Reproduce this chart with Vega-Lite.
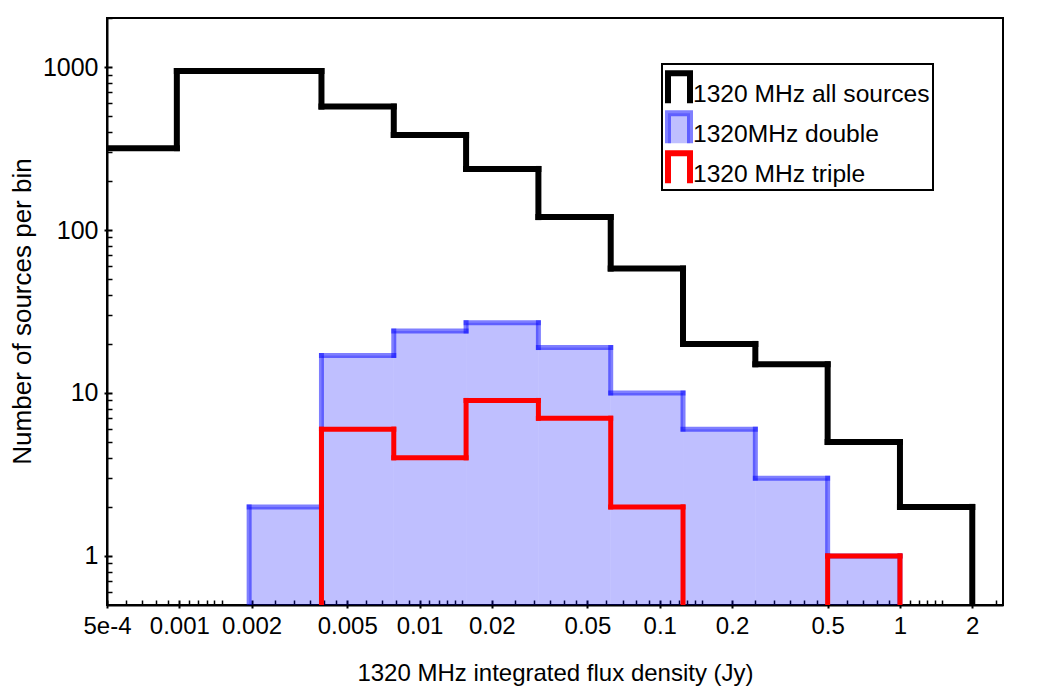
{
  "$schema": "https://vega.github.io/schema/vega-lite/v6.json",
  "width": 896,
  "height": 587,
  "autosize": {"type": "none"},
  "padding": {"left": 107, "top": 18, "right": 39, "bottom": 85},
  "background": "white",
  "config": {
    "font": "Liberation Sans",
    "view": {"stroke": "black", "strokeWidth": 2},
    "legend": {
      "orient": "none",
      "legendX": 555,
      "legendY": 46,
      "title": null,
      "symbolType": "M-1,1.5V-1.23H1V1.5",
      "symbolSize": 484,
      "symbolStrokeWidth": 6,
      "symbolFillColor": "transparent",
      "labelFontSize": 24.6,
      "labelColor": "black",
      "labelOffset": 0,
      "labelLimit": 400,
      "clipHeight": 39.5,
      "rowPadding": 0,
      "padding": 3,
      "strokeColor": "black",
      "fillColor": "white"
    }
  },
  "data": {
    "values": [
      {"series": "1320 MHz all sources", "lo": 0.00048828125, "hi": 0.0009765625, "n": 318},
      {"series": "1320 MHz all sources", "lo": 0.0009765625, "hi": 0.001953125, "n": 946},
      {"series": "1320 MHz all sources", "lo": 0.001953125, "hi": 0.00390625, "n": 946},
      {"series": "1320 MHz all sources", "lo": 0.00390625, "hi": 0.0078125, "n": 572},
      {"series": "1320 MHz all sources", "lo": 0.0078125, "hi": 0.015625, "n": 383},
      {"series": "1320 MHz all sources", "lo": 0.015625, "hi": 0.03125, "n": 237},
      {"series": "1320 MHz all sources", "lo": 0.03125, "hi": 0.0625, "n": 120},
      {"series": "1320 MHz all sources", "lo": 0.0625, "hi": 0.125, "n": 58},
      {"series": "1320 MHz all sources", "lo": 0.125, "hi": 0.25, "n": 20},
      {"series": "1320 MHz all sources", "lo": 0.25, "hi": 0.5, "n": 15},
      {"series": "1320 MHz all sources", "lo": 0.5, "hi": 1, "n": 5},
      {"series": "1320 MHz all sources", "lo": 1, "hi": 2, "n": 2},
      {"series": "1320 MHz all sources", "lo": 2, "hi": 4, "n": 0},
      {"series": "1320MHz double", "lo": 0.0009765625, "hi": 0.001953125, "n": 0},
      {"series": "1320MHz double", "lo": 0.001953125, "hi": 0.00390625, "n": 2},
      {"series": "1320MHz double", "lo": 0.00390625, "hi": 0.0078125, "n": 17},
      {"series": "1320MHz double", "lo": 0.0078125, "hi": 0.015625, "n": 24},
      {"series": "1320MHz double", "lo": 0.015625, "hi": 0.03125, "n": 27},
      {"series": "1320MHz double", "lo": 0.03125, "hi": 0.0625, "n": 19},
      {"series": "1320MHz double", "lo": 0.0625, "hi": 0.125, "n": 10},
      {"series": "1320MHz double", "lo": 0.125, "hi": 0.25, "n": 6},
      {"series": "1320MHz double", "lo": 0.25, "hi": 0.5, "n": 3},
      {"series": "1320MHz double", "lo": 0.5, "hi": 1, "n": 1},
      {"series": "1320MHz double", "lo": 1, "hi": 2, "n": 0},
      {"series": "1320 MHz triple", "lo": 0.001953125, "hi": 0.00390625, "n": 0},
      {"series": "1320 MHz triple", "lo": 0.00390625, "hi": 0.0078125, "n": 6},
      {"series": "1320 MHz triple", "lo": 0.0078125, "hi": 0.015625, "n": 4},
      {"series": "1320 MHz triple", "lo": 0.015625, "hi": 0.03125, "n": 9},
      {"series": "1320 MHz triple", "lo": 0.03125, "hi": 0.0625, "n": 7},
      {"series": "1320 MHz triple", "lo": 0.0625, "hi": 0.125, "n": 2},
      {"series": "1320 MHz triple", "lo": 0.125, "hi": 0.25, "n": 0},
      {"series": "1320 MHz triple", "lo": 0.25, "hi": 0.5, "n": 0},
      {"series": "1320 MHz triple", "lo": 0.5, "hi": 1, "n": 1},
      {"series": "1320 MHz triple", "lo": 1, "hi": 2, "n": 0}
    ]
  },
  "transform": [
    {"window": [{"op": "lag", "field": "n", "as": "prev"}], "groupby": ["series"], "sort": [{"field": "lo", "order": "ascending"}]}
  ],
  "layer": [
    {
      "transform": [{"filter": "datum.series === '1320MHz double' && datum.n > 0"}],
      "mark": {"type": "rect", "fill": "#0000ff", "fillOpacity": 0.25, "clip": true},
      "encoding": {
        "x": {
          "field": "lo", "type": "quantitative",
          "scale": {"type": "log", "domain": [0.0005, 2.685], "nice": false},
          "axis": {
            "orient": "bottom",
            "values": [0.0005, 0.001, 0.002, 0.005, 0.01, 0.02, 0.05, 0.1, 0.2, 0.5, 1, 2],
            "labelExpr": "datum.value < 0.0009 ? '5e-4' : toString(datum.value)",
            "grid": false, "domain": false, "offset": 3,
            "tickSize": -8, "tickWidth": 2, "tickColor": "black",
            "labelFontSize": 24, "labelColor": "black", "labelPadding": 14, "labelFlush": false, "labelOverlap": false,
            "title": "1320 MHz integrated flux density (Jy)",
            "titleFontSize": 24, "titleFontWeight": "normal", "titleColor": "black",
            "titleBaseline": "alphabetic", "titleY": 72
          }
        },
        "x2": {"field": "hi"},
        "y": {
          "field": "n", "type": "quantitative",
          "scale": {"type": "log", "domain": [0.5, 2000], "nice": false, "clamp": true},
          "axis": {
            "orient": "left",
            "values": [1, 10, 100, 1000],
            "format": "d",
            "grid": false, "domain": false, "offset": 3,
            "tickSize": -8, "tickWidth": 2, "tickColor": "black",
            "labelFontSize": 25, "labelColor": "black", "labelPadding": 14, "labelOverlap": false,
            "title": "Number of sources per bin",
            "titleFontSize": 26, "titleFontWeight": "normal", "titleColor": "black",
            "titleAngle": -90, "titleAlign": "center", "titleBaseline": "middle",
            "titleX": -82, "titleY": 293
          }
        },
        "y2": {"datum": 0.5}
      }
    },
    {
      "transform": [{"filter": "datum.series === '1320MHz double' && datum.prev != null && datum.prev != datum.n"}],
      "mark": {"type": "rule", "strokeWidth": 5, "strokeCap": "square", "opacity": 0.5, "clip": true},
      "encoding": {
        "x": {"field": "lo", "type": "quantitative", "scale": {"type": "log", "domain": [0.0005, 2.685], "nice": false}, "axis": null},
        "y": {"field": "prev", "type": "quantitative", "scale": {"type": "log", "domain": [0.5, 2000], "nice": false, "clamp": true}, "axis": null},
        "y2": {"field": "n"},
        "color": {"field": "series", "type": "nominal"}
      }
    },
    {
      "transform": [{"filter": "datum.series === '1320MHz double' && datum.n > 0"}],
      "mark": {"type": "rule", "strokeWidth": 5, "strokeCap": "square", "opacity": 0.5, "clip": true},
      "encoding": {
        "x": {
          "field": "lo", "type": "quantitative",
          "scale": {"type": "log", "domain": [0.0005, 2.685], "nice": false},
          "axis": {
            "orient": "bottom",
            "values": [0.0006, 0.0007, 0.0008, 0.0009, 0.0011, 0.0012, 0.0013, 0.0014, 0.0015, 0.0025, 0.003, 0.0035, 0.004, 0.0045, 0.006, 0.007, 0.008, 0.009, 0.011, 0.012, 0.013, 0.014, 0.015, 0.025, 0.03, 0.035, 0.04, 0.045, 0.06, 0.07, 0.08, 0.09, 0.11, 0.12, 0.13, 0.14, 0.15, 0.25, 0.3, 0.35, 0.4, 0.45, 0.6, 0.7, 0.8, 0.9, 1.1, 1.2, 1.3, 1.4, 1.5, 2.5],
            "labels": false, "grid": false, "title": null,
            "domain": true, "domainColor": "black", "domainWidth": 2,
            "tickSize": -5, "tickWidth": 1.5, "tickColor": "black"
          }
        },
        "x2": {"field": "hi"},
        "y": {
          "field": "n", "type": "quantitative",
          "scale": {"type": "log", "domain": [0.5, 2000], "nice": false, "clamp": true},
          "axis": {
            "orient": "left",
            "values": [0.6, 0.7, 0.8, 0.9, 2, 3, 4, 5, 6, 7, 8, 9, 20, 30, 40, 50, 60, 70, 80, 90, 200, 300, 400, 500, 600, 700, 800, 900, 2000],
            "labels": false, "grid": false, "title": null,
            "domain": true, "domainColor": "black", "domainWidth": 2,
            "tickSize": -5, "tickWidth": 1.5, "tickColor": "black"
          }
        },
        "color": {"field": "series", "type": "nominal"}
      }
    },
    {
      "transform": [{"filter": "datum.series === '1320 MHz all sources' && datum.prev != null && datum.prev != datum.n"}],
      "mark": {"type": "rule", "strokeWidth": 6, "strokeCap": "square", "clip": true},
      "encoding": {
        "x": {"field": "lo", "type": "quantitative", "scale": {"type": "log", "domain": [0.0005, 2.685], "nice": false}, "axis": null},
        "y": {"field": "prev", "type": "quantitative", "scale": {"type": "log", "domain": [0.5, 2000], "nice": false, "clamp": true}, "axis": null},
        "y2": {"field": "n"},
        "color": {
          "field": "series", "type": "nominal",
          "scale": {"domain": ["1320 MHz all sources", "1320MHz double", "1320 MHz triple"], "range": ["#000000", "#0000ff", "#ff0000"]},
          "legend": {
            "encode": {
              "legend": {"update": {"strokeWidth": {"value": 2}}},
              "labels": {"update": {"dy": {"value": 8.5}}},
              "symbols": {"update": {
                "fill": [{"test": "datum.value === '1320MHz double'", "value": "rgba(0,0,255,0.25)"}, {"value": "transparent"}],
                "strokeOpacity": [{"test": "datum.value === '1320MHz double'", "value": 0.5}, {"value": 1}]
              }}
            }
          }
        }
      }
    },
    {
      "transform": [{"filter": "datum.series === '1320 MHz all sources' && datum.n > 0"}],
      "mark": {"type": "rule", "strokeWidth": 6, "strokeCap": "square", "clip": true},
      "encoding": {
        "x": {"field": "lo", "type": "quantitative", "scale": {"type": "log", "domain": [0.0005, 2.685], "nice": false}, "axis": null},
        "x2": {"field": "hi"},
        "y": {"field": "n", "type": "quantitative", "scale": {"type": "log", "domain": [0.5, 2000], "nice": false, "clamp": true}, "axis": null},
        "color": {"field": "series", "type": "nominal"}
      }
    },
    {
      "transform": [{"filter": "datum.series === '1320 MHz triple' && datum.prev != null && datum.prev != datum.n"}],
      "mark": {"type": "rule", "strokeWidth": 5, "strokeCap": "square", "clip": true},
      "encoding": {
        "x": {"field": "lo", "type": "quantitative", "scale": {"type": "log", "domain": [0.0005, 2.685], "nice": false}, "axis": null},
        "y": {"field": "prev", "type": "quantitative", "scale": {"type": "log", "domain": [0.5, 2000], "nice": false, "clamp": true}, "axis": null},
        "y2": {"field": "n"},
        "color": {"field": "series", "type": "nominal"}
      }
    },
    {
      "transform": [{"filter": "datum.series === '1320 MHz triple' && datum.n > 0"}],
      "mark": {"type": "rule", "strokeWidth": 5, "strokeCap": "square", "clip": true},
      "encoding": {
        "x": {"field": "lo", "type": "quantitative", "scale": {"type": "log", "domain": [0.0005, 2.685], "nice": false}, "axis": null},
        "x2": {"field": "hi"},
        "y": {"field": "n", "type": "quantitative", "scale": {"type": "log", "domain": [0.5, 2000], "nice": false, "clamp": true}, "axis": null},
        "color": {"field": "series", "type": "nominal"}
      }
    }
  ],
  "resolve": {"axis": {"x": "independent", "y": "independent"}}
}
